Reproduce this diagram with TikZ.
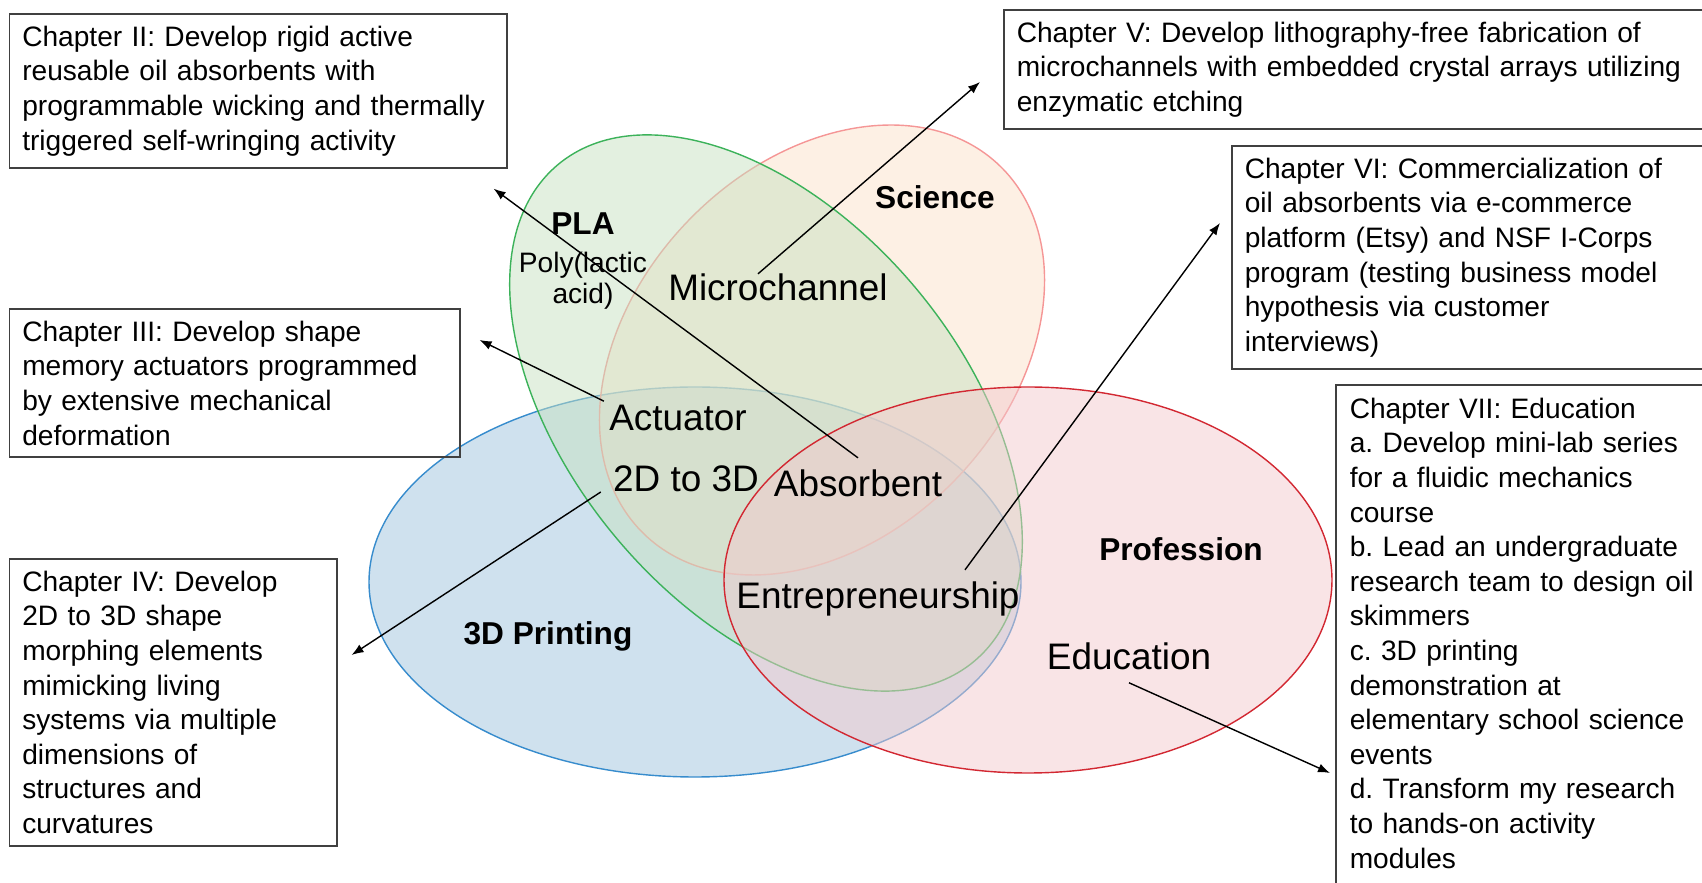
\documentclass[tikz,border=0pt]{standalone}
\usepackage{fontspec}
\setmainfont{Liberation Sans}
\usetikzlibrary{positioning, arrows.meta}
\definecolor{printfill}{RGB}{159,195,221}
\definecolor{printline}{RGB}{55,140,205}
\definecolor{plafill}{RGB}{199,225,193}
\definecolor{plaline}{RGB}{60,178,90}
\definecolor{scifill}{RGB}{251,225,201}
\definecolor{sciline}{RGB}{245,150,150}
\definecolor{proffill}{RGB}{243,201,205}
\definecolor{profline}{RGB}{210,40,50}

\begin{document}
\begin{tikzpicture}[set/.style={fill opacity=.5, line width=.4pt}, lbl/.style={font=\fontsize{10.5}{12}\selectfont, anchor=base}, ttl/.style={font=\fontsize{9}{11}\selectfont\bfseries, anchor=base},
		chap/.style={draw=black!75, line width=.45pt, anchor=north west, align=left, inner xsep=.13cm, inner ysep=.12cm, font=\fontsize{8}{9.85}\selectfont\frenchspacing},
		link/.style={-{Latex[length=1.2mm, width=.9mm]}, line width=.4pt}]
		\useasboundingbox (0,0) rectangle (17.02,8.83);
		\draw[set, fill=printfill, draw=printline] (6.95,3.01) ellipse [x radius=3.26, y radius=1.95];
		\draw[set, fill=scifill, draw=sciline, rotate around={46:(8.22,5.33)}] (8.22,5.33) ellipse [x radius=2.56, y radius=1.86];
		\draw[set, fill=plafill, draw=plaline, rotate around={-50:(7.66,4.70)}] (7.66,4.70) ellipse [x radius=3.24, y radius=1.95];
		\draw[set, fill=proffill, draw=profline] (10.28,3.03) ellipse [x radius=3.04, y radius=1.93];
		\node[ttl] (pla) at (5.83,6.48) {PLA}; \node[font=\fontsize{8}{9}\selectfont, align=center, below=-.8mm of pla] (plafull) {Poly(lactic\\acid)};
		\node[ttl] (sci) at (9.35,6.74) {Science}; \node[ttl] (prof) at (11.81,3.22) {Profession}; \node[ttl] (print) at (5.48,2.38) {3D Printing};
		\node[lbl] (mc) at (7.78,5.82) {Microchannel}; \node[lbl] (act) at (6.78,4.52) {Actuator};
		\node[lbl] (twod) at (6.86,3.91) {2D to 3D}; \node[lbl] (abs) at (8.58,3.86) {Absorbent};
		\node[lbl] (ent) at (8.78,2.74) {Entrepreneurship}; \node[lbl] (edu) at (11.29,2.13) {Education};
		\node[chap, text width=4.715cm] (ch2) at (.085,8.70) {Chapter II: Develop rigid active\\reusable oil absorbents with\\programmable wicking and thermally\\triggered self-wringing activity};
		\node[chap, text width=4.245cm] (ch3) at (.085,5.75) {Chapter III: Develop shape\\memory actuators programmed\\by extensive mechanical\\deformation};
		\node[chap, text width=3.015cm] (ch4) at (.085,3.25) {Chapter IV: Develop\\2D to 3D shape\\morphing elements\\mimicking living\\systems via multiple\\dimensions of\\structures and\\curvatures};
		\node[chap, text width=6.91cm] (ch5) at (10.03,8.74) {Chapter V: Develop lithography-free fabrication of\\microchannels with embedded crystal arrays utilizing\\enzymatic etching};
		\node[chap, text width=4.64cm] (ch6) at (12.31,7.38) {Chapter VI: Commercialization of\\oil absorbents via e-commerce\\platform (Etsy) and NSF I-Corps\\program (testing business model\\hypothesis via customer\\interviews)};
		\node[chap, draw=none, text width=3.64cm] (ch7) at (13.36,4.98) {Chapter VII: Education\\a. Develop mini-lab series\\for a fluidic mechanics\\course\\b. Lead an undergraduate\\research team to design oil\\skimmers\\c. 3D printing\\demonstration at\\elementary school science\\events\\d. Transform my research\\to hands-on activity\\modules};
		\draw[draw=black!75, line width=.45pt] ([xshift=1cm]ch7.north east) -- (ch7.north west) -- ++(0,-5.3);
		\coordinate[below left=.2 and .14 of ch2.south east] (t2); \coordinate[below right=.32 and .19 of ch3.north east] (t3);
		\coordinate[below right=.97 and .14 of ch4.north east] (t4); \coordinate[above left=.48 and .23 of ch5.south west] (t5);
		\coordinate[below left=.78 and .11 of ch6.north west] (t6); \coordinate[below left=3.88 and .06 of ch7.north west] (t7);
		\draw[link] (abs.north) -- (t2); \draw[link] ([shift={(.07,-.08)}]act.north west) -- (t3); \draw[link] (twod.base west) -- (t4);
		\draw[link] ([shift={(-.2,-.12)}]mc.north) -- (t5); \draw[link] ([xshift=8.7mm]ent.north) -- (t6); \draw[link] (edu.south) -- (t7);
	\end{tikzpicture}
\end{document}
